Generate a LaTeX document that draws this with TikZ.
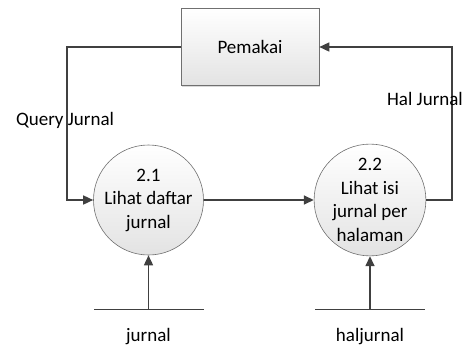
\documentclass[tikz,border=0pt]{standalone}
\usepackage{fontspec}
\setmainfont{Carlito}
\usetikzlibrary{arrows.meta,shadows}
\definecolor{ln}{HTML}{404040}
\definecolor{bd}{HTML}{707070}
\begin{document}
\begin{tikzpicture}[x=1pt,y=-1pt,
  flow/.style={draw=ln,line width=1.5pt,-{Triangle[length=10pt,width=9pt]}},
  proc/.style={circle,draw=bd,line width=0.6pt,top color=white,bottom color=gray!22,minimum size=110pt,inner sep=0pt,align=center,font=\fontsize{19}{23.5}\selectfont},
  ent/.style={rectangle,draw=bd,line width=0.6pt,top color=white,bottom color=gray!22,minimum width=138pt,minimum height=77pt,font=\fontsize{19}{23.5}\selectfont,drop shadow={shadow xshift=1pt,shadow yshift=-1pt,opacity=0.3}},
  lbl/.style={font=\fontsize{19}{23.5}\selectfont,inner sep=0pt},
  store/.style={draw=ln,line width=0.8pt}]
\useasboundingbox (0,0) rectangle (466,364);
\node[ent] (pem) at (250,47) {Pemakai};
\node[proc] (p1) at (148.5,200) {2.1\\Lihat daftar\\jurnal};
\node[proc] (p2) at (370,200) {2.2\\Lihat isi\\jurnal per\\halaman};
\coordinate (s1l) at (94,309); \coordinate (s1r) at (204,309); \coordinate (s1m) at (148.5,309);
\coordinate (s2l) at (315,309); \coordinate (s2r) at (425,309); \coordinate (s2m) at (370,309);
\draw[store] (s1l) -- (s1r);
\draw[store] (s2l) -- (s2r);
\node[lbl] (t1) at (148.5,337) {jurnal};
\node[lbl] (t2) at (370,337) {haljurnal};
\draw[flow] (pem.west) -| (67,200) -- (p1.west);
\draw[flow] (p1.east) -- (p2.west);
\draw[flow] (p2.east) -| (452,47) -- (pem.east);
\draw[flow] (s1m) -- (p1.south);
\draw[flow] (s2m) -- (p2.south);
\node[lbl] (q) at (65,120) {Query Jurnal};
\node[lbl] (h) at (425,99) {Hal Jurnal};
\end{tikzpicture}
\end{document}
